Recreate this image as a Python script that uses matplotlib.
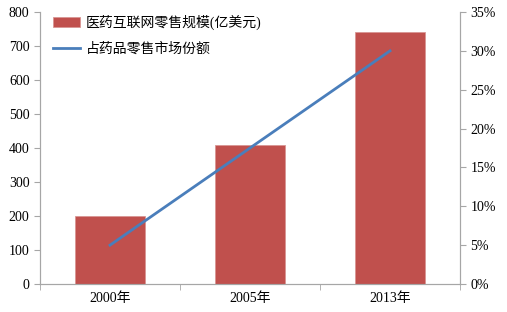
import matplotlib.pyplot as plt
import numpy as np
from matplotlib.ticker import FuncFormatter

plt.rcParams['font.family'] = ['Liberation Serif', 'Noto Sans CJK SC']

categories = ['2000年', '2005年', '2013年']
sales = [200, 410, 742]          # 医药互联网零售规模(亿美元)
share = [5, 17.5, 30]            # 占药品零售市场份额 (%)

grey = '#a6a6a6'
fig = plt.figure(figsize=(5.07, 3.12), dpi=100)
ax = fig.add_axes([40 / 507, 28 / 312, 420 / 507, 272 / 312])
x = np.arange(len(categories))

ax.bar(x, sales, width=0.5, color='#c0504d', edgecolor='#d99694', linewidth=0.6,
       label='医药互联网零售规模(亿美元)', zorder=2)
ax.set_xlim(-0.5, 2.5)
ax.set_ylim(0, 800)
ax.set_yticks(range(0, 801, 100))
ax.set_xticks(x)
ax.set_xticklabels(categories, fontsize=10)
ax.set_xticks([-0.5, 0.5, 1.5, 2.5], minor=True)
ax.tick_params(axis='x', which='major', length=0, pad=6)
ax.tick_params(axis='x', which='minor', length=4, color=grey)
ax.tick_params(axis='y', length=4, color=grey, labelsize=10)

ax2 = ax.twinx()
ax2.plot(x, share, color='#4a7ebb', linewidth=2, label='占药品零售市场份额', zorder=3)
ax2.set_ylim(0, 35)
ax2.set_yticks(range(0, 36, 5))
ax2.yaxis.set_major_formatter(FuncFormatter(lambda v, p: f'{v:.0f}%'))
ax2.tick_params(axis='y', length=4, color=grey, labelsize=10)

for a in (ax, ax2):
    a.spines['top'].set_visible(False)
    for s in ('left', 'right', 'bottom'):
        a.spines[s].set_color(grey)

h1, l1 = ax.get_legend_handles_labels()
h2, l2 = ax2.get_legend_handles_labels()
ax2.legend(h1 + h2, l1 + l2, loc='upper left', bbox_to_anchor=(0.0, 1.035),
           frameon=False, prop={'size': 10, 'weight': 'medium'}, handlelength=2.0,
           handleheight=0.8, handletextpad=0.4, labelspacing=0.9)

fig.savefig('out.png', dpi=100)
